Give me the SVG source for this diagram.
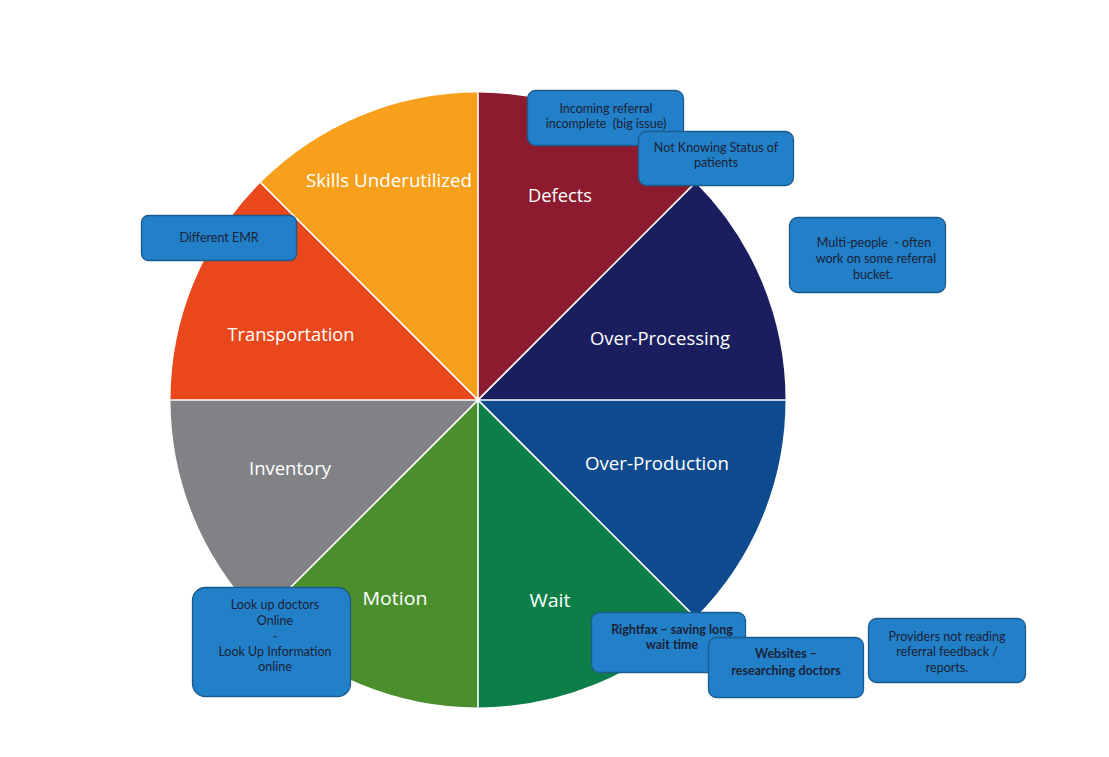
<svg xmlns="http://www.w3.org/2000/svg" width="1109" height="757" viewBox="0 0 1109 757">
<style>
.lbl{font-family:"Open Sans","Liberation Sans",sans-serif;font-size:18px;fill:#ffffff;text-anchor:middle}
.box{fill:#2180C8;stroke:#1D5A8C;stroke-width:1.3}
.bt{font-family:Lato,"Liberation Sans",sans-serif;font-size:12.5px;fill:#1B2238;text-anchor:middle}
.bb{font-weight:bold}
.div{stroke:#ffffff;stroke-width:1.6;fill:none}
</style>
<rect width="1109" height="757" fill="#ffffff"/>
<g id="pie">
<g id="skills"><path d="M478,400 L260.6,182.6 A307.5,307.5 0 0 1 478,92.5 Z" fill="#F8A01C"/><text class="lbl" x="389" y="187" textLength="166" lengthAdjust="spacingAndGlyphs">Skills Underutilized</text></g>
<g id="defects"><path d="M478,400 L478,92.5 A307.5,307.5 0 0 1 695.4,182.6 Z" fill="#8D1B2F"/><text class="lbl" x="560" y="202" textLength="64" lengthAdjust="spacingAndGlyphs">Defects</text></g>
<g id="overprocessing"><path d="M478,400 L695.4,182.6 A307.5,307.5 0 0 1 785.5,400 Z" fill="#1B1E5E"/><text class="lbl" x="660" y="345" textLength="140" lengthAdjust="spacingAndGlyphs">Over-Processing</text></g>
<g id="overproduction"><path d="M478,400 L785.5,400 A307.5,307.5 0 0 1 695.4,617.4 Z" fill="#0E4A8E"/><text class="lbl" x="657" y="470" textLength="144" lengthAdjust="spacingAndGlyphs">Over-Production</text></g>
<g id="wait"><path d="M478,400 L695.4,617.4 A307.5,307.5 0 0 1 478,707.5 Z" fill="#0B7F47"/><text class="lbl" x="550" y="607" textLength="41" lengthAdjust="spacingAndGlyphs">Wait</text></g>
<g id="motion"><path d="M478,400 L478,707.5 A307.5,307.5 0 0 1 260.6,617.4 Z" fill="#4B8E2C"/><text class="lbl" x="395" y="605" textLength="65" lengthAdjust="spacingAndGlyphs">Motion</text></g>
<g id="inventory"><path d="M478,400 L260.6,617.4 A307.5,307.5 0 0 1 170.5,400 Z" fill="#808285"/><text class="lbl" x="290" y="475" textLength="82" lengthAdjust="spacingAndGlyphs">Inventory</text></g>
<g id="transportation"><path d="M478,400 L170.5,400 A307.5,307.5 0 0 1 260.6,182.6 Z" fill="#E9481D"/><text class="lbl" x="291" y="341" textLength="127" lengthAdjust="spacingAndGlyphs">Transportation</text></g>
</g>
<g id="dividers">
<line class="div" x1="478" y1="92.5" x2="478" y2="707.5"/>
<line class="div" x1="170.5" y1="400" x2="785.5" y2="400"/>
<line class="div" x1="260.6" y1="182.6" x2="695.4" y2="617.4"/>
<line class="div" x1="695.4" y1="182.6" x2="260.6" y2="617.4"/>
</g>
<g id="connectors"/>
<g id="incoming"><rect class="box" x="527.5" y="90.5" width="156" height="55" rx="8"/><text class="bt" x="606" y="113">Incoming referral</text><text class="bt" x="606" y="128" xml:space="preserve">incomplete  (big issue)</text></g>
<g id="notknowing"><rect class="box" x="638.5" y="131.5" width="155" height="54" rx="8"/><text class="bt" x="716" y="152">Not Knowing Status of</text><text class="bt" x="716" y="167">patients</text></g>
<g id="emr"><rect class="box" x="141.5" y="215.5" width="155" height="45" rx="7"/><text class="bt" x="219" y="242">Different EMR</text></g>
<g id="multipeople"><rect class="box" x="789.5" y="217.5" width="156" height="75" rx="8"/><text class="bt" x="874" y="247" xml:space="preserve">Multi-people  - often</text><text class="bt" x="876" y="263">work on some referral</text><text class="bt" x="873" y="279">bucket.</text></g>
<g id="lookup"><rect class="box" x="192.5" y="587.5" width="158" height="109" rx="13"/><text class="bt" x="275" y="609">Look up doctors</text><text class="bt" x="275" y="625">Online</text><text class="bt" x="275" y="641">-</text><text class="bt" x="275" y="656">Look Up Information</text><text class="bt" x="275" y="671">online</text></g>
<g id="rightfax"><rect class="box" x="591.5" y="612.5" width="154" height="60" rx="8"/><text class="bt bb" x="672" y="634">Rightfax – saving long</text><text class="bt bb" x="672" y="649">wait time</text></g>
<g id="websites"><rect class="box" x="708.5" y="637.5" width="155" height="60" rx="8"/><text class="bt bb" x="786" y="658">Websites –</text><text class="bt bb" x="786" y="675">researching doctors</text></g>
<g id="providers"><rect class="box" x="868.5" y="618.5" width="157" height="64" rx="8"/><text class="bt" x="947" y="641">Providers not reading</text><text class="bt" x="947" y="656">referral feedback /</text><text class="bt" x="947" y="672">reports.</text></g>
</svg>
